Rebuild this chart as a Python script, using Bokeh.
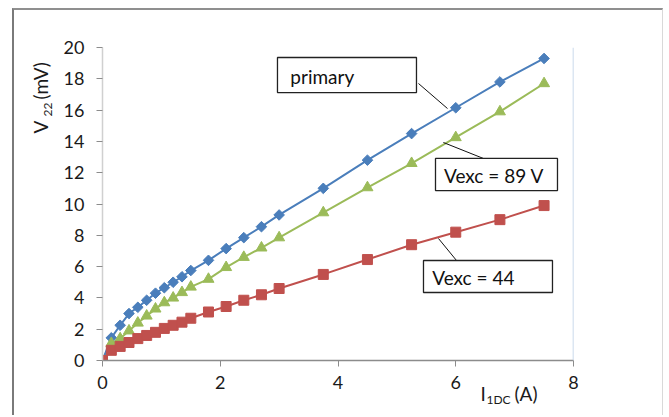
import math
from bokeh.plotting import figure
from bokeh.models import Range1d, FixedTicker, Label, Span
from bokeh.core.properties import value
from bokeh.embed import file_html
from bokeh.resources import INLINE

# ---- data ----
current = [0, 0.15, 0.3, 0.45, 0.6, 0.75, 0.9, 1.05, 1.2, 1.35, 1.5,
           1.8, 2.1, 2.4, 2.7, 3.0, 3.75, 4.5, 5.25, 6.0, 6.75, 7.5]
v_primary = [0, 1.45, 2.25, 3.0, 3.4, 3.85, 4.3, 4.65, 5.0, 5.35, 5.75,
             6.4, 7.15, 7.85, 8.55, 9.3, 11.0, 12.8, 14.5, 16.15, 17.8, 19.3]
v_89 = [0, 1.1, 1.4, 1.9, 2.4, 2.85, 3.3, 3.7, 4.0, 4.35, 4.7,
        5.2, 5.95, 6.6, 7.2, 7.85, 9.45, 11.05, 12.6, 14.25, 15.9, 17.7]
v_44 = [0, 0.65, 0.9, 1.15, 1.4, 1.6, 1.8, 2.05, 2.25, 2.45, 2.7,
        3.1, 3.45, 3.85, 4.2, 4.6, 5.5, 6.45, 7.4, 8.2, 9.0, 9.9]
x_ticks = [0, 2, 4, 6, 8]
y_ticks = [0, 2, 4, 6, 8, 10, 12, 14, 16, 18, 20]

FONT = "Lato"
BLUE, GREEN, RED = "#4A7EBB", "#9BBB59", "#C0504D"

# canvas placed at page (14, 10) inside a CSS border
OX, OY = 14, 10
W, H = 651, 407
p = figure(width=W, height=H, output_backend="svg", toolbar_location=None,
           x_range=Range1d(0, 8), y_range=Range1d(0, 20),
           min_border_left=102 - OX, min_border_right=W - (573 - OX),
           min_border_top=47 - OY, min_border_bottom=H - (360 - OY))
p.margin = (8, 0, 0, 12)
p.styles = {"border-top": "2px solid #8f8f8f", "border-left": "2px solid #7a7a7a",
            "border-right": "1px solid #d9d9d9"}
p.background_fill_color = "white"
p.border_fill_color = "white"
p.outline_line_color = None
p.xgrid.grid_line_color = None
p.ygrid.grid_line_color = None

for ax in (p.xaxis[0], p.yaxis[0]):
    ax.major_label_text_font = FONT
    ax.major_label_text_font_size = "18px"
    ax.major_label_text_color = "#1a1a1a"
    ax.minor_tick_line_color = None
    ax.major_tick_in = 0
    ax.major_tick_out = 6
    ax.major_tick_line_color = "#8c8c8c"

p.xaxis.ticker = FixedTicker(ticks=x_ticks)
p.yaxis.ticker = FixedTicker(ticks=y_ticks)
p.xaxis.axis_line_color = "#8c8c8c"
p.xaxis.axis_line_width = 1.5
p.yaxis.axis_line_color = "#d0d0d0"
p.yaxis.axis_line_width = 1.5
p.xaxis.major_label_standoff = 9
p.yaxis.major_label_standoff = 12

p.add_layout(Span(location=8, dimension="height", line_color="#b9cde5", line_width=1.5))

# series
p.line(current, v_44, line_color=RED, line_width=2)
p.line(current, v_89, line_color=GREEN, line_width=2)
p.line(current, v_primary, line_color=BLUE, line_width=2)
p.scatter(current, v_primary, marker="square", angle=math.pi / 4, size=7.5,
          fill_color=BLUE, line_color=BLUE)
p.scatter(current, v_89, marker="triangle", size=11, fill_color=GREEN, line_color=GREEN)
p.scatter(current, v_44, marker="square", size=10, fill_color=RED, line_color=RED)

# callout boxes (data coordinates)
boxes = [
    # left, right, top, bottom, text x, text y, text, leader x0,y0,x1,y1
    (2.972, 5.333, 19.36, 17.12, 3.19, 18.15, "primary", 5.367, 17.70, 5.86, 16.10),
    (5.656, 7.728, 12.91, 10.86, 5.80, 11.82, "Vexc = 89 V", 5.79, 13.93, 6.47, 12.91),
    (5.452, 7.643, 6.39, 4.345, 5.60, 5.30, "Vexc = 44", 5.707, 7.795, 6.013, 6.39),
]
for (l, r, t, b, tx, ty, txt, x0, y0, x1, y1) in boxes:
    p.segment(x0=[x0], y0=[y0], x1=[x1], y1=[y1], line_color="#111111", line_width=1)
    p.quad(left=[l], right=[r], top=[t], bottom=[b], fill_color="white",
           line_color="#222222", line_width=1.3)
    p.text(x=[tx], y=[ty], text=[txt], text_font=value(FONT), text_font_size="19px",
           text_baseline="middle", text_align="left", text_color="#111111")

# axis titles built from pieces (subscripts); side panels with spare room keep them
# unclipped; canvas units measured from the canvas top-left corner
def lab(side, px, py, txt, size, angle=0.0):
    p.add_layout(Label(x=px - OX, y=py - OY, x_units="canvas", y_units="canvas",
                       text=txt, text_font=FONT, text_font_size=size,
                       text_color="#1a1a1a", angle=angle,
                       text_baseline="middle", text_align="left"), side)

# y title (rotated)
lab("left", 38, 131, "V", "19px", math.pi / 2)
lab("above", 45, 114, "22", "12px", math.pi / 2)
lab("right", 38, 97, "(mV)", "19px", math.pi / 2)
# x title
lab("right", 478, 391, "I", "19px")
lab("above", 484, 397, "1DC", "12px")
lab("right", 512, 391, "(A)", "19px")

open("out.html", "w").write(file_html(p, INLINE))
